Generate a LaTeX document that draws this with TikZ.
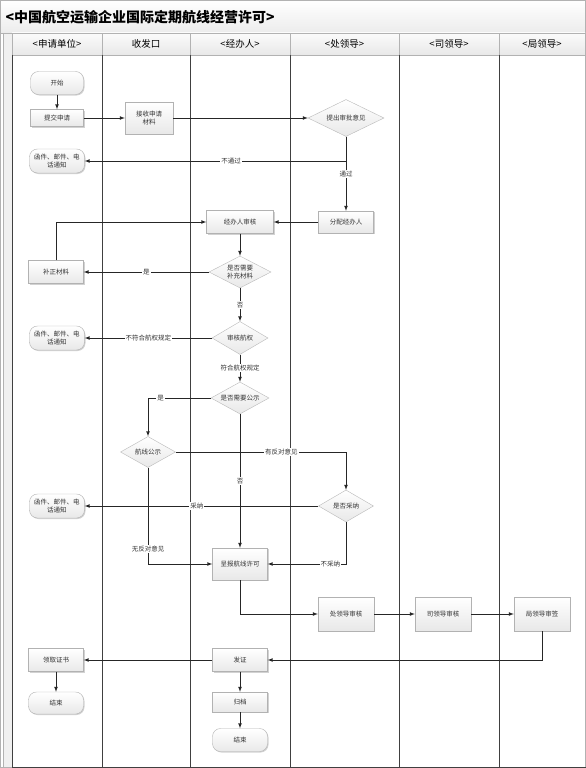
\documentclass[tikz,border=0pt]{standalone}
\usepackage{fontspec}
\setmainfont{Noto Sans CJK SC}
\usetikzlibrary{shapes.geometric,shadows,arrows}

\tikzset{
  proc/.style={draw=gray!60, rectangle, top color=white, bottom color=gray!18,
    drop shadow={shadow xshift=1pt, shadow yshift=-1pt, opacity=0.35},
    font=\fontsize{6.5}{7.5}\selectfont, text=gray!40!black, align=center, inner sep=1pt},
  dec/.style={draw=gray!55, diamond, aspect=1.75, top color=white, bottom color=gray!18,
    font=\fontsize{6.5}{7.5}\selectfont, text=gray!40!black, align=center, inner sep=0.5pt},
  term/.style={draw=gray!60, rectangle, rounded corners=8pt, top color=white, bottom color=gray!18,
    drop shadow={shadow xshift=1pt, shadow yshift=-1pt, opacity=0.35},
    font=\fontsize{6.5}{7.5}\selectfont, text=gray!40!black, align=center, inner sep=1pt},
  flow/.style={draw=gray!30!black, thick, line width=0.7pt, ->, >=latex},
  lbl/.style={fill=white, font=\fontsize{6.5}{7.5}\selectfont, text=gray!40!black, inner sep=1pt},
  head/.style={font=\fontsize{9.5}{10}\selectfont, text=black}
}

\begin{document}
\begin{tikzpicture}[x=1pt, y=-1pt]
\useasboundingbox (0,0) rectangle (586,768);

% frame, title and lanes
\fill[white] (0,0) rectangle (586,768);
\shade[top color=white, bottom color=gray!15] (0,0) rectangle (586,33);
\fill[gray!12] (3,33) rectangle (12,767);
\draw[gray!60, line width=0.8pt] (0.5,0.5) rectangle (585.5,767.5);
\draw[gray!60] (0.5,33) -- (585.5,33);
\draw[gray!60] (3,33) -- (3,767);
\node[anchor=west, font=\fontsize{14}{16}\selectfont\bfseries] (title) at (2,17) {<中国航空运输企业国际定期航线经营许可>};

\foreach \xa/\xb/\lab [count=\i] in {12/102/{<申请单位>}, 102/190/收发口, 190/290/{<经办人>},
    290/399/{<处领导>}, 399/499/{<司领导>}, 499/585/{<局领导>}} {
  \shade[top color=gray!3, bottom color=gray!18] (\xa,33) rectangle (\xb,55);
  \draw[gray!60] (\xa,33) rectangle (\xb,55);
  \draw[gray!50!black, line width=0.7pt] (\xa,55) -- (\xa,767);
  \node[head] (head\i) at ({(\xa+\xb)/2},44) {\lab};
}
\draw[gray!50!black, line width=0.8pt] (12,767) -- (585.5,767);

% nodes
\node[term, minimum width=53pt, minimum height=23pt] (start) at (57,83) {开始};
\node[proc, minimum width=53pt, minimum height=17pt] (submit) at (57,118) {提交申请};
\node[proc, minimum width=48pt, minimum height=32pt] (recv) at (149,118) {接收申请\\材料};
\node[dec, minimum width=76pt, minimum height=37pt] (appr) at (346,118) {提出审批意见};
\node[term, minimum width=55pt, minimum height=24pt] (note1) at (57,161) {函件、邮件、电\\话通知};
\node[proc, minimum width=55pt, minimum height=22pt] (assign) at (346,222) {分配经办人};
\node[proc, minimum width=67pt, minimum height=23pt] (review) at (240,222) {经办人审核};
\node[proc, minimum width=55pt, minimum height=23pt] (fix) at (56,272) {补正材料};
\node[dec, minimum width=62pt, minimum height=32pt] (need) at (240,272) {是否需要\\补充材料};
\node[dec, minimum width=56pt, minimum height=33pt] (right) at (240,338) {审核航权};
\node[term, minimum width=55pt, minimum height=24pt] (note2) at (57,338) {函件、邮件、电\\话通知};
\node[dec, minimum width=58pt, minimum height=32pt] (pub) at (240,398) {是否需要公示};
\node[dec, minimum width=55pt, minimum height=31pt] (show) at (148,452) {航线公示};
\node[dec, minimum width=55pt, minimum height=32pt] (adopt) at (346,506) {是否采纳};
\node[term, minimum width=55pt, minimum height=24pt] (note3) at (57,506) {函件、邮件、电\\话通知};
\node[proc, minimum width=55pt, minimum height=32pt] (report) at (240,564) {呈报航线许可};
\node[proc, minimum width=56pt, minimum height=34pt] (div) at (346,614) {处领导审核};
\node[proc, minimum width=56pt, minimum height=34pt] (dept) at (443,614) {司领导审核};
\node[proc, minimum width=56pt, minimum height=34pt] (bur) at (542,614) {局领导审签};
\node[proc, minimum width=55pt, minimum height=23pt] (issue) at (240,660) {发证};
\node[proc, minimum width=55pt, minimum height=23pt] (get) at (56,660) {领取证书};
\node[term, minimum width=55pt, minimum height=22pt] (end1) at (56,703) {结束};
\node[proc, minimum width=55pt, minimum height=20pt] (arch) at (240,702) {归档};
\node[term, minimum width=55pt, minimum height=23pt] (end2) at (240,740) {结束};

% connectors
\path[flow] (start) -- (submit);
\path[flow] (submit) -- (recv);
\path[flow] (recv) -- (appr);
\path[flow] (appr.south) |- node[lbl, pos=0.72] {不通过} (note1.east);
\path[flow] (appr.south) -- node[lbl] {通过} (assign.north);
\path[flow] (assign) -- (review);
\path[flow] (review) -- (need);
\path[flow] (need.west) -- node[lbl] {是} (fix.east);
\path[flow] (fix.north) |- (review.west);
\path[flow] (need.south) -- node[lbl] {否} (right.north);
\path[flow] (right.west) -- node[lbl] {不符合航权规定} (note2.east);
\path[flow] (right.south) -- node[lbl] {符合航权规定} (pub.north);
\path[flow] (pub.west) -| node[lbl, pos=0.4] {是} (show.north);
\path[flow] (show.east) -| node[lbl, pos=0.31] {有反对意见} (adopt.north);
\path[flow] (pub.south) -- node[lbl] {否} (report.north);
\path[flow] (adopt.west) -- node[lbl, pos=0.52] {采纳} (note3.east);
\path[flow] (show.south) |- node[lbl, pos=0.42] {无反对意见} (report.west);
\path[flow] (adopt.south) |- node[lbl, pos=0.6] {不采纳} (report.east);
\path[flow] (report.south) |- (div.west);
\path[flow] (div) -- (dept);
\path[flow] (dept) -- (bur);
\path[flow] (bur.south) |- (issue.east);
\path[flow] (issue) -- (get);
\path[flow] (get) -- (end1);
\path[flow] (issue) -- (arch);
\path[flow] (arch) -- (end2);
\end{tikzpicture}
\end{document}
